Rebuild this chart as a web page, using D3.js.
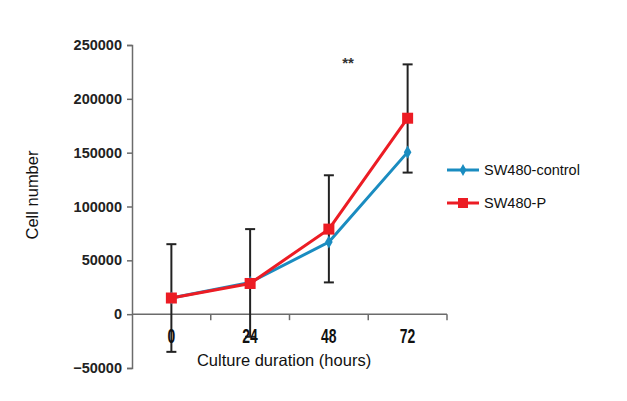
<!DOCTYPE html>
<html><head><meta charset="utf-8">
<script src="https://cdn.jsdelivr.net/npm/d3@7"></script>
<style>body{margin:0;background:#fff}</style>
</head><body>
<svg id="c" width="627" height="401"></svg>
<script>
const categories = ["0","24","48","72"];
const controlValues = [15000, 29500, 67000, 150500];
const pValues = [15000, 28500, 79000, 182000];
const errTop = [65000, 79000, 129000, 232000];
const errBottom = [-35000, -21000, 29500, 131500];
const yTicks = [-50000, 0, 50000, 100000, 150000, 200000, 250000];
const seriesNames = ["SW480-control", "SW480-P"];

const svg = d3.select("#c");
const blue = "#1a8cc0", red = "#ec1c24", axisCol = "#6b6b6b";
const x = d3.scaleBand().domain(categories).range([132, 447]).padding(0);
const y = d3.scaleLinear().domain([-50000, 250000]).range([368, 45]);
const cx = d => x(d) + x.bandwidth() / 2;

// y axis
const ya = svg.append("g").attr("transform", "translate(132,0)")
  .call(d3.axisLeft(y).tickValues(yTicks).tickSize(5).tickPadding(5).tickFormat(d3.format("d")));
ya.select(".domain").attr("stroke", axisCol).attr("stroke-width", 1.5);
ya.selectAll(".tick line").attr("stroke", axisCol).attr("stroke-width", 1.5);
ya.selectAll("text").attr("font-family", "Liberation Sans, Arial, sans-serif")
  .attr("font-size", 14.5).attr("font-weight", "bold").attr("fill", "#222");

// x axis at zero
const xa = svg.append("g").attr("transform", `translate(0,${y(0)})`);
xa.append("line").attr("x1", 132).attr("x2", 447).attr("stroke", axisCol).attr("stroke-width", 1.5);
const bounds = categories.map(c => x(c)).concat([x(categories[categories.length-1]) + x.bandwidth()]);
xa.selectAll("line.t").data(bounds.slice(1)).enter().append("line").attr("class","t")
  .attr("x1", d => d).attr("x2", d => d).attr("y1", 0).attr("y2", 6)
  .attr("stroke", axisCol).attr("stroke-width", 1.5);

// error bars
const eb = svg.append("g").attr("stroke", "#222").attr("stroke-width", 2);
categories.forEach((c, i) => {
  const px = cx(c);
  eb.append("line").attr("x1", px).attr("x2", px).attr("y1", y(errTop[i])).attr("y2", y(errBottom[i]));
  eb.append("line").attr("x1", px - 5).attr("x2", px + 5).attr("y1", y(errTop[i])).attr("y2", y(errTop[i]));
  eb.append("line").attr("x1", px - 5).attr("x2", px + 5).attr("y1", y(errBottom[i])).attr("y2", y(errBottom[i]));
});

// x tick labels (condensed bold)
svg.append("g").selectAll("text").data(categories).enter().append("text")
  .attr("x", 0).attr("y", 0).attr("text-anchor", "middle")
  .attr("font-family", "Liberation Sans Narrow, Arial Narrow, Liberation Sans, sans-serif").attr("font-weight", "bold")
  .attr("font-size", 17).attr("fill", "#111")
  .attr("transform", d => `translate(${cx(d)},343) scale(0.82,1.2)`)
  .text(d => d);

const line = d3.line().x((d, i) => cx(categories[i])).y(d => y(d));
svg.append("path").datum(controlValues).attr("d", line).attr("fill", "none").attr("stroke", blue).attr("stroke-width", 3);
svg.append("path").datum(pValues).attr("d", line).attr("fill", "none").attr("stroke", red).attr("stroke-width", 3);

svg.append("g").selectAll("path").data(controlValues).enter().append("path")
  .attr("d", d3.symbol().type(d3.symbolDiamond).size(50))
  .attr("transform", (d, i) => `translate(${cx(categories[i])},${y(d)})`).attr("fill", blue);
svg.append("g").selectAll("rect").data(pValues).enter().append("rect")
  .attr("x", (d, i) => cx(categories[i]) - 5.5).attr("y", d => y(d) - 5.5)
  .attr("width", 11).attr("height", 11).attr("fill", red);

// significance
svg.append("text").attr("x", 348).attr("y", 68).attr("text-anchor", "middle")
  .attr("font-family", "Liberation Sans, Arial, sans-serif").attr("font-weight", "bold")
  .attr("font-size", 15).attr("fill", "#333").text("**");

// axis titles
svg.append("text").attr("x", 284).attr("y", 366).attr("text-anchor", "middle")
  .attr("font-family", "Liberation Sans, Arial, sans-serif").attr("font-size", 16.5).attr("fill", "#111")
  .text("Culture duration (hours)");
svg.append("text").attr("transform", "translate(38,195) rotate(-90)").attr("text-anchor", "middle")
  .attr("font-family", "Liberation Sans, Arial, sans-serif").attr("font-size", 16.5).attr("fill", "#111")
  .text("Cell number");

// legend
const legCols = [blue, red];
const leg = svg.append("g");
seriesNames.forEach((n, i) => {
  const ly = 170 + i * 33;
  leg.append("line").attr("x1", 447).attr("x2", 479).attr("y1", ly).attr("y2", ly).attr("stroke", legCols[i]).attr("stroke-width", 3);
  if (i === 0) leg.append("path").attr("d", d3.symbol().type(d3.symbolDiamond).size(40)).attr("transform", `translate(463,${ly})`).attr("fill", blue);
  else leg.append("rect").attr("x", 458).attr("y", ly - 5).attr("width", 10).attr("height", 10).attr("fill", red);
  leg.append("text").attr("x", 484).attr("y", ly + 5).attr("font-family", "Liberation Sans, Arial, sans-serif")
    .attr("font-size", 14.5).attr("fill", "#111").text(n);
});
</script>
</body></html>
